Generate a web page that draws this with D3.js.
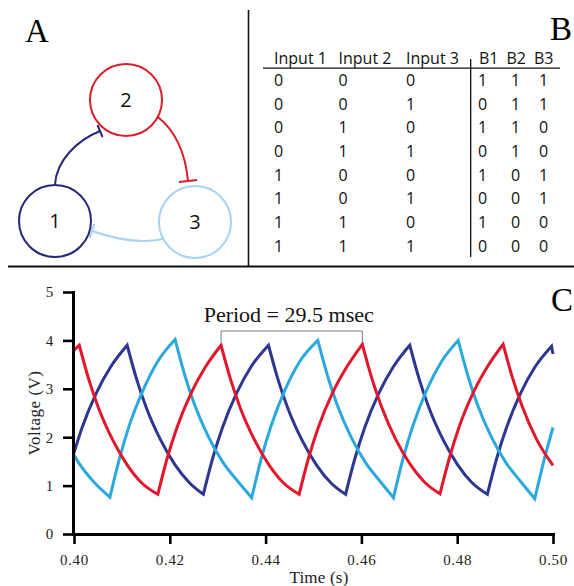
<!DOCTYPE html>
<html>
<head>
<meta charset="utf-8">
<script src="https://cdn.jsdelivr.net/npm/d3@7"></script>
<style>
  html, body { margin: 0; padding: 0; background: #fff; }
  svg { display: block; }
</style>
</head>
<body>
<svg id="fig" width="574" height="586"></svg>
<script>
// ---------- data ----------
// Panel A: three-node inhibitory ring
const nodeLabels = ["1", "2", "3"];
const edges = [["1", "2"], ["2", "3"], ["3", "1"]];

// Panel B: truth table
const tableHeaders = ["Input 1", "Input 2", "Input 3", "B1", "B2", "B3"];
const tableRows = [
  [0, 0, 0, 1, 1, 1],
  [0, 0, 1, 0, 1, 1],
  [0, 1, 0, 1, 1, 0],
  [0, 1, 1, 0, 1, 0],
  [1, 0, 0, 1, 0, 1],
  [1, 0, 1, 0, 0, 1],
  [1, 1, 0, 1, 0, 0],
  [1, 1, 1, 0, 0, 0]
];

// Panel C: oscillator voltages, [time (s), voltage (V)]
const timeTicks = [0.40, 0.42, 0.44, 0.46, 0.48, 0.50];
const voltTicks = [0, 1, 2, 3, 4, 5];

const navyTrace = [
  [0.4000,1.68],[0.4017,2.20],[0.4047,2.92],[0.4077,3.46],[0.4111,3.90],
  [0.4131,3.19],[0.4151,2.61],[0.4181,1.94],[0.4211,1.43],[0.4241,1.06],[0.4270,0.82],
  [0.4290,1.58],[0.4310,2.20],[0.4340,2.92],[0.4370,3.46],[0.4406,3.90],
  [0.4426,3.19],[0.4446,2.61],[0.4476,1.94],[0.4506,1.43],[0.4536,1.06],[0.4567,0.82],
  [0.4587,1.58],[0.4607,2.20],[0.4637,2.92],[0.4667,3.46],[0.4701,3.90],
  [0.4721,3.19],[0.4741,2.61],[0.4771,1.94],[0.4801,1.43],[0.4831,1.06],[0.4863,0.82],
  [0.4883,1.58],[0.4903,2.20],[0.4933,2.92],[0.4963,3.46],[0.4997,3.88],[0.5000,3.72]
];

const cyanTrace = [
  [0.4000,1.63],[0.4010,1.47],[0.4040,1.09],[0.4075,0.76],
  [0.4095,1.56],[0.4115,2.23],[0.4145,2.99],[0.4175,3.57],[0.4211,4.02],
  [0.4231,3.29],[0.4251,2.69],[0.4281,2.00],[0.4311,1.48],[0.4341,1.10],[0.4371,0.75],
  [0.4391,1.56],[0.4411,2.22],[0.4441,2.99],[0.4471,3.56],[0.4509,4.00],
  [0.4529,3.28],[0.4549,2.68],[0.4579,1.99],[0.4609,1.47],[0.4639,1.09],[0.4667,0.75],
  [0.4687,1.56],[0.4707,2.22],[0.4737,2.99],[0.4767,3.56],[0.4802,4.00],
  [0.4822,3.28],[0.4842,2.68],[0.4872,1.99],[0.4902,1.47],[0.4932,1.09],[0.4962,0.73],
  [0.4982,1.55],[0.5000,2.20]
];

const redTrace = [
  [0.4000,3.80],[0.4011,3.90],
  [0.4031,3.19],[0.4051,2.61],[0.4081,1.94],[0.4111,1.43],[0.4141,1.06],[0.4175,0.82],
  [0.4195,1.58],[0.4215,2.20],[0.4245,2.92],[0.4275,3.46],[0.4307,3.90],
  [0.4327,3.19],[0.4347,2.61],[0.4377,1.94],[0.4407,1.43],[0.4437,1.06],[0.4470,0.82],
  [0.4490,1.58],[0.4510,2.20],[0.4540,2.92],[0.4570,3.46],[0.4602,3.92],
  [0.4622,3.21],[0.4642,2.63],[0.4672,1.95],[0.4702,1.44],[0.4732,1.07],[0.4764,0.83],
  [0.4784,1.58],[0.4804,2.21],[0.4834,2.93],[0.4864,3.47],[0.4896,3.92],
  [0.4916,3.21],[0.4936,2.63],[0.4966,1.95],[0.5000,1.42]
];

// period annotation (msec) measured between two red peaks
const periodMs = 29.5;
const periodStart = 0.4307;

// ---------- drawing ----------
const svg = d3.select("#fig");
const serif = "'Liberation Serif', 'Times New Roman', serif";
const sans = "'Open Sans', 'DejaVu Sans', sans-serif";

const colors = { navy: "#2e3790", cyan: "#2ba9dc", red: "#e2172b" };
const nodeColors = { "1": "#27287a", "2": "#d81e28", "3": "#a6d3f2" };

// panel frames
svg.append("line").attr("x1", 248.5).attr("x2", 248.5).attr("y1", 10).attr("y2", 266)
  .attr("stroke", "#111").attr("stroke-width", 1.6);
svg.append("line").attr("x1", 8).attr("x2", 574).attr("y1", 266.5).attr("y2", 266.5)
  .attr("stroke", "#111").attr("stroke-width", 2);

// panel letters
const letters = [["A", 25, 42], ["B", 550, 40], ["C", 551, 311]];
svg.selectAll("text.panel").data(letters).join("text")
  .attr("class", "panel")
  .attr("x", d => d[1]).attr("y", d => d[2])
  .attr("font-family", serif).attr("font-size", 33).attr("fill", "#000")
  .text(d => d[0]);

// ---------- Panel A ----------
const nodePos = { "1": [55, 221], "2": [126, 100], "3": [195, 222] };
const nodeR = 36;
const edgeGeom = {
  "1-2": { d: "M55,185 C56,160 78,140 100,131", bar: 13 },
  "2-3": { d: "M158,117 Q184,138 188,181", bar: 18 },
  "3-1": { d: "M163,239 C140,244 112,238 92,231", bar: 15 }
};

const gA = svg.append("g");
edges.forEach(([s, t]) => {
  const g = edgeGeom[s + "-" + t];
  const p = gA.append("path").attr("d", g.d).attr("fill", "none")
    .attr("stroke", nodeColors[s]).attr("stroke-width", 2);
  const node = p.node();
  const L = node.getTotalLength();
  const p1 = node.getPointAtLength(L), p0 = node.getPointAtLength(L - 2);
  let tx = p1.x - p0.x, ty = p1.y - p0.y;
  const n = Math.hypot(tx, ty); tx /= n; ty /= n;
  const h = g.bar / 2;
  gA.append("line")
    .attr("x1", p1.x - ty * h).attr("y1", p1.y + tx * h)
    .attr("x2", p1.x + ty * h).attr("y2", p1.y - tx * h)
    .attr("stroke", nodeColors[s]).attr("stroke-width", 2);
});

gA.selectAll("circle").data(nodeLabels).join("circle")
  .attr("cx", d => nodePos[d][0]).attr("cy", d => nodePos[d][1]).attr("r", nodeR)
  .attr("fill", "none").attr("stroke", d => nodeColors[d]).attr("stroke-width", 2);
gA.selectAll("text").data(nodeLabels).join("text")
  .attr("x", d => nodePos[d][0]).attr("y", d => nodePos[d][1])
  .attr("dy", "0.36em").attr("text-anchor", "middle")
  .attr("font-family", sans).attr("font-size", 20).attr("fill", "#111")
  .text(d => d);

// ---------- Panel B ----------
const gB = svg.append("g").attr("font-family", sans).attr("font-size", 16).attr("fill", "#111");
const headerX = [274, 338.5, 406, 479, 506.5, 534];
const cellX = [274, 338.5, 406, 478, 511, 539];
const rowY = d3.scaleLinear().domain([0, tableRows.length - 1]).range([86, 251.7]);

gB.selectAll("text.hdr").data(tableHeaders).join("text")
  .attr("class", "hdr").attr("x", (d, i) => headerX[i]).attr("y", 64).text(d => d);
gB.append("line").attr("x1", 263).attr("x2", 560).attr("y1", 68.2).attr("y2", 68.2)
  .attr("stroke", "#111").attr("stroke-width", 1.3);
gB.append("line").attr("x1", 470.7).attr("x2", 470.7).attr("y1", 59).attr("y2", 257)
  .attr("stroke", "#111").attr("stroke-width", 1.3);

tableRows.forEach((row, r) => {
  gB.selectAll("text.r" + r).data(row).join("text")
    .attr("class", "r" + r)
    .attr("x", (d, i) => cellX[i]).attr("y", rowY(r))
    .text(d => d);
});

// ---------- Panel C ----------
const x = d3.scaleLinear().domain([0.40, 0.50]).range([74, 553]);
const y = d3.scaleLinear().domain([0, 5]).range([534, 292]);

const gC = svg.append("g");

// traces: each rise/fall run is smoothed on its own so peaks and troughs stay sharp
const lineGen = d3.line().x(d => x(d[0])).y(d => y(d[1])).curve(d3.curveMonotoneX);
function monotoneRuns(data) {
  const out = [];
  let cur = [data[0]], dir = 0;
  for (let i = 1; i < data.length; i++) {
    const s = Math.sign(data[i][1] - data[i - 1][1]);
    if (dir !== 0 && s !== 0 && s !== dir) { out.push(cur); cur = [data[i - 1]]; }
    cur.push(data[i]);
    if (s !== 0) dir = s;
  }
  out.push(cur);
  return out;
}
function tracePath(data) {
  return monotoneRuns(data).map((run, i) => {
    const d = lineGen(run);
    return i === 0 ? d : d.replace(/^M[^A-Za-z]*/, "");
  }).join("");
}

const traces = [
  { data: navyTrace, color: colors.navy },
  { data: cyanTrace, color: colors.cyan },
  { data: redTrace, color: colors.red }
];
gC.selectAll("path.trace").data(traces).join("path")
  .attr("class", "trace")
  .attr("d", d => tracePath(d.data))
  .attr("fill", "none").attr("stroke", d => d.color)
  .attr("stroke-width", 3).attr("stroke-linejoin", "miter").attr("stroke-miterlimit", 10);

// axes
const xAxis = d3.axisBottom(x).tickValues(timeTicks).tickFormat(d3.format(".2f"))
  .tickSize(10).tickSizeOuter(0).tickPadding(10);
const yAxis = d3.axisLeft(y).tickValues(voltTicks).tickFormat(d3.format("d"))
  .tickSize(10).tickSizeOuter(0).tickPadding(9);

function styleAxis(g) {
  g.select(".domain").attr("stroke", "#000").attr("stroke-width", 3).attr("stroke-linecap", "square");
  g.selectAll(".tick line").attr("stroke", "#000").attr("stroke-width", 2.6);
  g.selectAll(".tick text").attr("font-family", serif).attr("font-size", 15)
    .attr("fill", "#222").attr("letter-spacing", "0.7px");
}
gC.append("g").attr("transform", "translate(0,534)").call(xAxis).call(styleAxis);
gC.append("g").attr("transform", "translate(73,0)").call(yAxis).call(styleAxis);

gC.append("text").attr("x", 319).attr("y", 583).attr("text-anchor", "middle")
  .attr("font-family", serif).attr("font-size", 17).attr("letter-spacing", "0.2px").attr("fill", "#222")
  .text("Time (s)");
gC.append("text").attr("transform", "translate(40,413) rotate(-90)").attr("text-anchor", "middle")
  .attr("font-family", serif).attr("font-size", 17).attr("letter-spacing", "0.5px").attr("fill", "#222")
  .text("Voltage (V)");

// period bracket
const pA = x(periodStart), pB = x(periodStart + periodMs / 1000);
const peakY = y(d3.max(redTrace, d => d[1]));
gC.append("path")
  .attr("d", `M${pA},${peakY - 2}V331H${pB}V${peakY - 2}`)
  .attr("fill", "none").attr("stroke", "#7a7a7a").attr("stroke-width", 1);
gC.append("text").attr("x", (pA + pB) / 2 - 3).attr("y", 321.5).attr("text-anchor", "middle")
  .attr("font-family", serif).attr("font-size", 22).attr("fill", "#111")
  .text(`Period = ${periodMs} msec`);
</script>
</body>
</html>
